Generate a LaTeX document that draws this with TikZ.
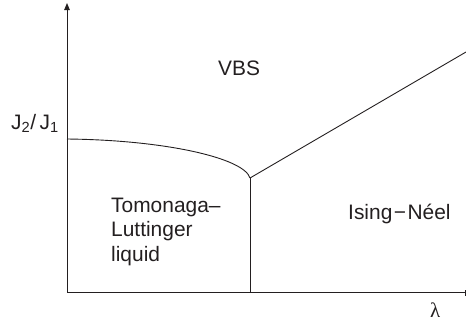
\documentclass[tikz,border=0pt]{standalone}
\usepackage{fontspec}
\setmainfont{Liberation Sans}
\newfontfamily\serifgreek{Liberation Serif}
\usetikzlibrary{arrows.meta}
\definecolor{ink}{HTML}{231F20}
\begin{document}
\begin{tikzpicture}[x=1bp,y=-1bp,
  line/.style={draw=ink,line width=0.9bp},
  lbl/.style={text=ink,inner sep=0pt,anchor=base west,font=\fontsize{21}{24.5}\selectfont}]
\useasboundingbox (0,0) rectangle (466,323);
% axes
\coordinate (O) at (67,292.7);
\coordinate (ytop) at (67,3);
\coordinate (xend) at (465.5,292.7);
\draw[line,-{Triangle[length=7bp,width=5.5bp]}] (O) -- (ytop);
\draw[line] (O) -- (xend);
\draw[line] ([yshift=-3bp]xend) -- ([yshift=3bp]xend);
% phase boundaries
\coordinate (A) at (67,139);
\coordinate (T) at (250,178);
\coordinate (B) at (250,292.7);
\coordinate (C) at (466,52);
\draw[line] (A) .. controls (165,140) and (244,158) .. (T);
\draw[line] (T) -- (B);
\draw[line] (T) -- (C);
% labels
\node[lbl] (vbs) at (218,75) {VBS};
\node[lbl] (jj) at (11,129) {J\textsubscript{2}/\,J\textsubscript{1}};
\node[lbl,align=left] (tl) at (111,261) {Tomonaga–\\Luttinger\\liquid};
\node[lbl] (in) at (348,219) {Ising\kern1.5bp−\kern1.5bp Néel};
\node[lbl] (lam) at (430,317) {\serifgreek λ};
\end{tikzpicture}
\end{document}
